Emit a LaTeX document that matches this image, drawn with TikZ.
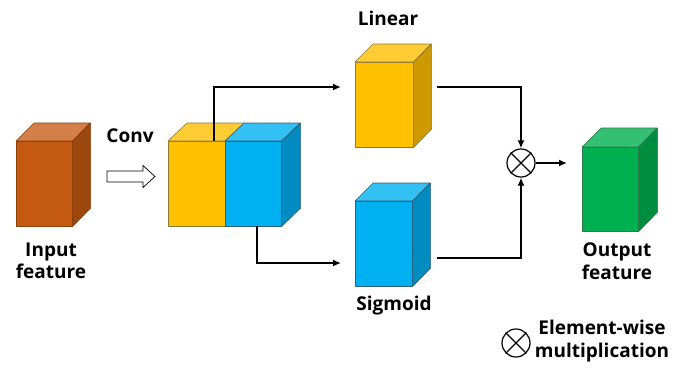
\documentclass[tikz,border=0pt]{standalone}
\usepackage{fontspec}
\setmainfont{Open Sans}
\usetikzlibrary{arrows.meta}
\definecolor{brF}{HTML}{C55A11}\definecolor{brT}{HTML}{D47F48}\definecolor{brS}{HTML}{9C470D}\definecolor{brD}{HTML}{8A3F0C}
\definecolor{yeF}{HTML}{FFC000}\definecolor{yeT}{HTML}{FFCD33}\definecolor{yeS}{HTML}{CC9A00}\definecolor{yeD}{HTML}{8C7A3A}
\definecolor{blF}{HTML}{00B0F0}\definecolor{blT}{HTML}{33C0F3}\definecolor{blS}{HTML}{008CC0}\definecolor{blD}{HTML}{2F5F7A}
\definecolor{grF}{HTML}{00B050}\definecolor{grT}{HTML}{33C073}\definecolor{grS}{HTML}{008D40}\definecolor{grD}{HTML}{2F7A4A}
\tikzset{
  lbl/.style={font=\bfseries\fontsize{19}{22.5}\selectfont, align=center, inner sep=0},
  arr/.style={line width=2pt, -{Latex[length=8pt,width=7pt]}},
  face/.style={line width=0.6pt, line join=round},
}
% #1 name, #2 left x, #3 top y, #4 width, #5 height, #6 colour prefix, #7 depth
\newcommand{\mycube}[7]{%
  \node[face, draw=#6D, fill=#6F, minimum width=#4pt, minimum height=#5pt, inner sep=0, anchor=north west] (#1) at (#2,#3) {};
  \draw[face, draw=#6D, fill=#6T] (#1.north west) -- ++(#7,-#7) -- ++(#4,0) -- (#1.north east) -- cycle;
  \draw[face, draw=#6D, fill=#6S] (#1.north east) -- ++(#7,-#7) -- ++(0,#5) -- (#1.south east) -- cycle;
}
\begin{document}
\begin{tikzpicture}[x=1pt,y=-1pt]
\useasboundingbox (0,0) rectangle (673,368);
% input cube
\mycube{inp}{16}{141}{56}{85}{br}{18}
\node[lbl] (inlbl) at (51,261) {Input\\feature};
% conv label and hollow arrow
\node[lbl] (convlbl) at (130,136) {Conv};
\draw[line width=0.7pt, fill=white, line join=miter] (107,171) -- (143,171) -- (143,165.5) -- (155,176.5) -- (143,187.5) -- (143,182) -- (107,182) -- cycle;
% conv cube (two halves)
\node[face, draw=yeD, fill=yeF, minimum width=57pt, minimum height=85pt, inner sep=0, anchor=north west] (cy) at (168,141) {};
\node[face, draw=blD, fill=blF, minimum width=56pt, minimum height=85pt, inner sep=0, anchor=north west] (cb) at (225,141) {};
\draw[face, draw=yeD, fill=yeT] (cy.north west) -- ++(19,-18) -- ++(57,0) -- (cy.north east) -- cycle;
\draw[face, draw=blD, fill=blT] (cb.north west) -- ++(19,-18) -- ++(56,0) -- (cb.north east) -- cycle;
\draw[face, draw=blD, fill=blS] (cb.north east) -- ++(19,-18) -- ++(0,85) -- (cb.south east) -- cycle;
% linear and sigmoid cubes
\mycube{lin}{355}{62}{58}{85}{ye}{18}
\node[lbl] (linlbl) at (388,18) {Linear};
\mycube{sig}{355}{201}{57}{85}{bl}{18}
\node[lbl] (siglbl) at (394,306) {Sigmoid};
% output cube
\mycube{out}{582}{147}{56}{84}{gr}{19}
\node[lbl] (outlbl) at (617,261) {Output\\feature};
% multiplication
\node[draw, circle, line width=1.2pt, minimum size=28pt, inner sep=0] (mul) at (521,163) {};
\draw[line width=1.2pt] (mul.north west) -- (mul.south east) (mul.north east) -- (mul.south west);
% connectors
\coordinate (a1) at (214,141);
\coordinate (a2) at (341,87);
\coordinate (b1) at (257,226);
\coordinate (b2) at (341,263);
\coordinate (l1) at (437,87);
\coordinate (s1) at (437,258);
\coordinate (o1) at (567,163);
\draw[arr] (a1) |- (a2);
\draw[arr] (b1) |- (b2);
\draw[arr] (l1) -| (mul.north);
\draw[arr] (s1) -| (mul.south);
\draw[arr] (mul.east) -- (o1);
% legend
\node[draw, circle, line width=1.2pt, minimum size=28pt, inner sep=0] (leg) at (516,343) {};
\draw[line width=1.2pt] (leg.north west) -- (leg.south east) (leg.north east) -- (leg.south west);
\node[lbl] (leglbl) at (602,341) {Element-wise\\multiplication};
\end{tikzpicture}
\end{document}
